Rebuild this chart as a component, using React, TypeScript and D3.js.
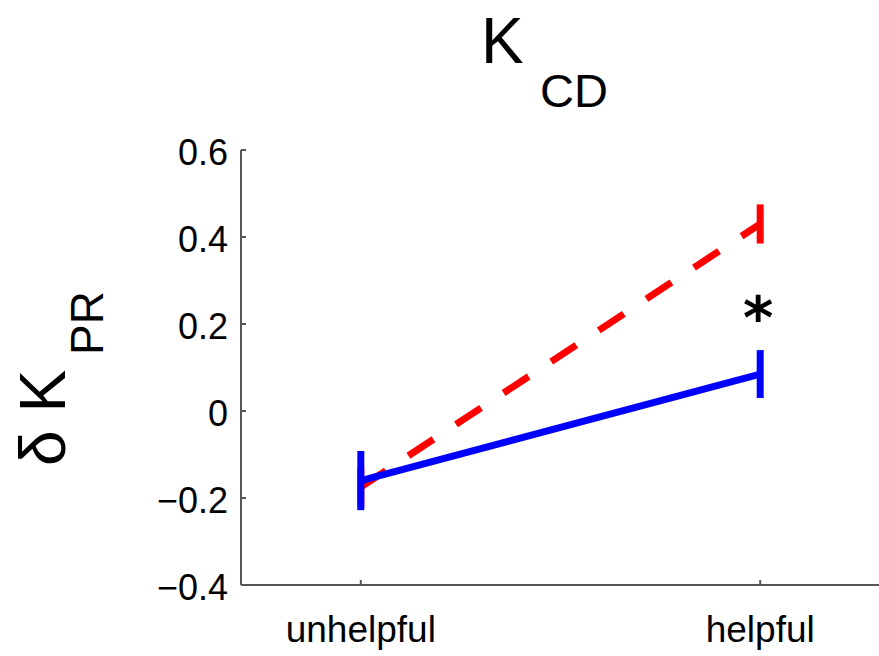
import React from 'react';
import * as d3 from 'd3';

// values
const categories = ['unhelpful', 'helpful'];
const blueMeans = [-0.16, 0.085];
const blueErr = [0.068, 0.055];
const redMeans = [-0.175, 0.43];
const redErr = [0.045, 0.045];
const yTicks = [-0.4, -0.2, 0, 0.2, 0.4, 0.6];

const W = 879;
const H = 656;
const font = '"Liberation Sans", Arial, Helvetica, sans-serif';

const App = () => {
  const x = d3.scaleLinear().domain([0.7, 2.3]).range([241, 880]);
  const y = d3.scaleLinear().domain([-0.4, 0.6]).range([585, 150]);
  const line = d3.line<number>()
    .x((_, i) => x(i + 1))
    .y(d => y(d));

  const fmt = (d: number) => (d < 0 ? '\u2212' : '') + d3.format('')(Math.abs(d));

  const errBars = (means: number[], errs: number[], color: string) =>
    means.map((m, i) => (
      <line key={i} x1={x(i + 1)} x2={x(i + 1)} y1={y(m - errs[i])} y2={y(m + errs[i])}
        stroke={color} strokeWidth={7} />
    ));

  return (
    <svg width={W} height={H} style={{ position: 'absolute', left: 0, top: 0, background: '#fff' }}
      fontFamily={font}>
      {/* title */}
      <text x={481} y={63} fontSize={64}>K</text>
      <text x={540} y={107} fontSize={47}>CD</text>

      {/* y label */}
      <text transform="translate(65,466) rotate(-90)" fontSize={64}>δ K</text>
      <text transform="translate(103,355) rotate(-90)" fontSize={46}>PR</text>

      {/* axes */}
      <line x1={241} x2={241} y1={y(0.6)} y2={y(-0.4)} stroke="#555" strokeWidth={2} />
      <line x1={241} x2={x(2.3)} y1={y(-0.4)} y2={y(-0.4)} stroke="#555" strokeWidth={2} />
      {yTicks.map(t => (
        <g key={t}>
          <line x1={241} x2={246} y1={y(t)} y2={y(t)} stroke="#555" strokeWidth={2} />
          <text x={228} y={y(t) + 2} dy="0.35em" textAnchor="end" fontSize={36}>{fmt(t)}</text>
        </g>
      ))}
      {categories.map((c, i) => (
        <g key={c}>
          <line x1={x(i + 1)} x2={x(i + 1)} y1={y(-0.4)} y2={y(-0.4) - 5} stroke="#555" strokeWidth={2} />
          <text x={x(i + 1)} y={642} textAnchor="middle" fontSize={37}>{c}</text>
        </g>
      ))}

      {/* red dashed series */}
      <path d={line(redMeans) ?? ''} fill="none" stroke="#ff0000" strokeWidth={7}
        strokeDasharray="30 27" />
      {errBars(redMeans, redErr, '#ff0000')}

      {/* blue solid series */}
      <path d={line(blueMeans) ?? ''} fill="none" stroke="#0000ff" strokeWidth={7} />
      {errBars(blueMeans, blueErr, '#0000ff')}

      {/* significance marker */}
      <text x={x(2) - 2} y={338} textAnchor="middle" fontSize={58} fontWeight="bold"
        fontFamily='"DejaVu Sans", sans-serif'>*</text>
    </svg>
  );
};

export default App;
